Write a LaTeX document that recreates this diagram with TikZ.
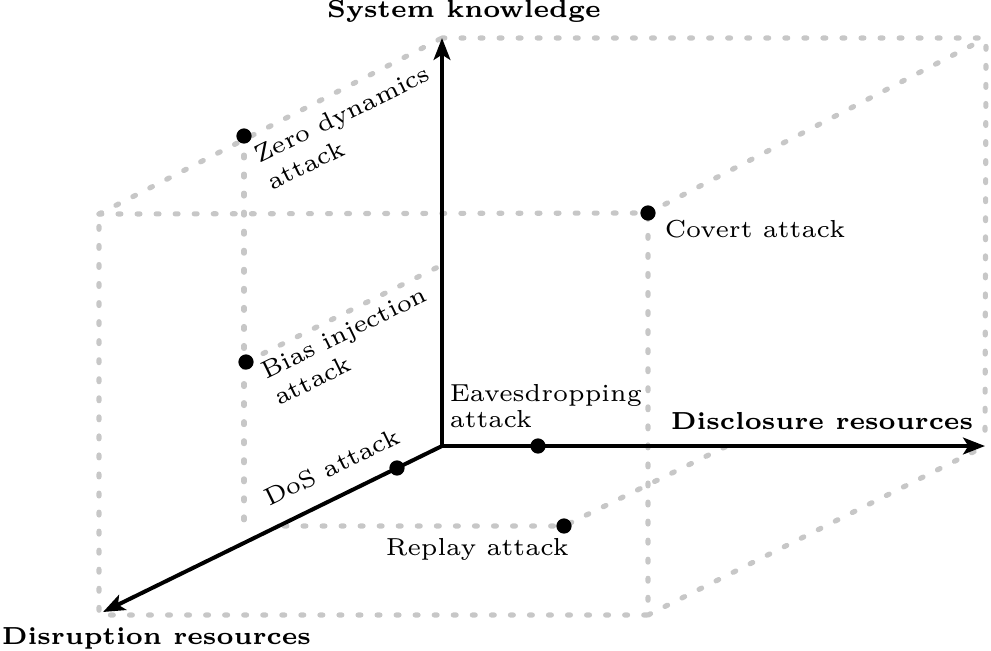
\documentclass[tikz,border=0pt]{standalone}
\usetikzlibrary{arrows.meta}
\begin{document}
\begin{tikzpicture}[x=0.252pt, y=-0.252pt,
  font=\fontsize{6.2}{7.4}\selectfont,
  gridline/.style={draw=black!22, line width=1.3pt, dash pattern=on 0.72pt off 4.08pt, line cap=round},
  axisline/.style={draw=black, line width=1.0pt, -{Stealth[length=5.5pt,width=4.2pt,inset=1.3pt]}},
  attackdot/.style={circle, fill=black, inner sep=0pt, minimum size=3.84pt},
  lbl/.style={inner sep=0pt, text=black},
  axlbl/.style={lbl, font=\fontsize{6.2}{7}\selectfont\bfseries},
  rlbl/.style={lbl, rotate=26, align=left, anchor=north west}]
\useasboundingbox (0,0) rectangle (991,650);
% cube corners and auxiliary points
\coordinate (O) at (442,446);
\coordinate (Up) at (442,38);
\coordinate (Right) at (985,446);
\coordinate (Down) at (103,612);
\coordinate (Btr) at (986,38);
\coordinate (Ftl) at (99,214);
\coordinate (Ftr) at (648,213);
\coordinate (Fbr) at (648,615);
\coordinate (Fbl) at (99,615);
\coordinate (Zd) at (244,136);
\coordinate (ZdLow) at (244,532);
\coordinate (Bi) at (246,362);
\coordinate (BiAx) at (440,266);
\coordinate (Dos) at (397,468);
\coordinate (Eav) at (538,446);
\coordinate (Rp) at (564,526);
\coordinate (RpAx) at (284,526);
\coordinate (RpAy) at (727,446);
% dotted box
\draw[gridline] (Up) -- (Btr) -- (Right);
\draw[gridline] (Ftl) -- (Ftr) -- (Fbr) -- (Fbl) -- cycle;
\draw[gridline] (Ftl) -- (Up);
\draw[gridline] (Ftr) -- (Btr);
\draw[gridline] (Fbr) -- (Right);
\draw[gridline] (Zd) -- (ZdLow);
\draw[gridline] (Bi) -- (BiAx);
\draw[gridline] (RpAx) -- (Rp) -- (RpAy);
% axes
\draw[axisline] (O) -- (Up);
\draw[axisline] (O) -- (Right);
\draw[axisline] (O) -- (Down);
% attack points
\node[attackdot] (zdn) at (Zd) {};
\node[attackdot] (bin) at (Bi) {};
\node[attackdot] (dosn) at (Dos) {};
\node[attackdot] (eavn) at (Eav) {};
\node[attackdot] (cov) at (Ftr) {};
\node[attackdot] (rpn) at (Rp) {};
% axis labels
\node[axlbl, anchor=base] (lsys) at (464,17) {System knowledge};
\node[axlbl, anchor=base west] (ldisc) at (670,429) {Disclosure resources};
\node[axlbl, anchor=base west] (ldisr) at (1,644) {Disruption resources};
% attack labels
\node[lbl, anchor=base west] (lcov) at (664,237) {Covert attack};
\node[lbl, anchor=base west] (lrp) at (385,555) {Replay attack};
\node[lbl, anchor=north west, align=left, font=\fontsize{6.2}{6.5}\selectfont] (leav) at (449,384) {Eavesdropping\\attack};
\node[lbl, rotate=26, anchor=base west] (ldos) at (269,507) {DoS attack};
\node[rlbl] (lbi) at (258,364) {Bias injection\\attack};
\node[rlbl] (lzd) at (251,148) {Zero dynamics\\attack};
\end{tikzpicture}
\end{document}
